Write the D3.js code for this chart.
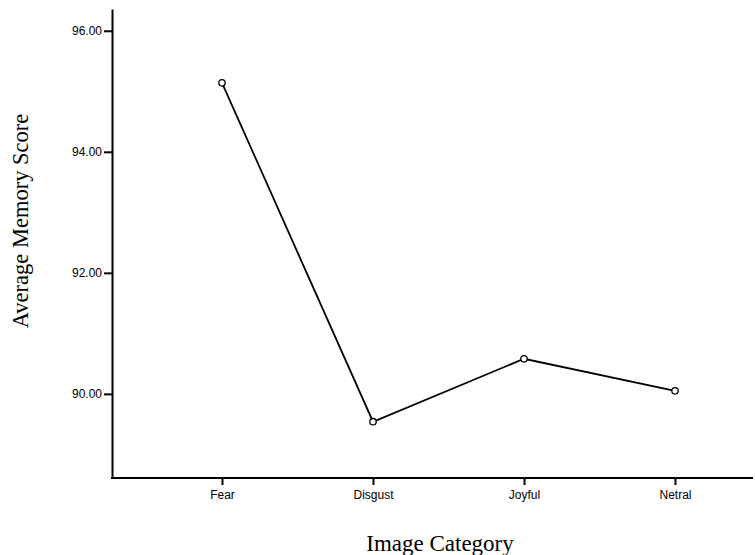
<!DOCTYPE html>
<html>
<head>
<meta charset="utf-8">
<script src="https://cdn.jsdelivr.net/npm/d3@7"></script>
<style>
  body { margin: 0; background: #fff; }
  svg { display: block; }
</style>
</head>
<body>
<div id="plot"></div>
<script>
// data
const categories = ["Fear", "Disgust", "Joyful", "Netral"];
const scores = [95.14, 89.54, 90.58, 90.05];
const yTicks = [90, 92, 94, 96];

const data = categories.map((c, i) => ({ category: c, score: scores[i] }));

const svg_width = 755;
const svg_height = 555;

const svg = d3.select("div#plot")
  .append("svg")
  .attr("width", svg_width)
  .attr("height", svg_height);

// plot frame
const axis_left = 112;
const axis_right = 753;
const axis_top = 9;
const axis_bottom = 478;

const x = d3.scalePoint()
  .domain(categories)
  .range([222, 675]);

const y = d3.scaleLinear()
  .domain([88.61, 96.36])
  .range([axis_bottom, axis_top]);

const tickFont = "'Liberation Sans', Arial, sans-serif";
const titleFont = "'Liberation Serif', 'Times New Roman', serif";

// Y axis
const yAxis = svg.append("g")
  .attr("transform", "translate(" + axis_left + ",0)")
  .call(d3.axisLeft(y)
    .tickValues(yTicks)
    .tickFormat(d3.format(".2f"))
    .tickSize(8)
    .tickSizeOuter(0)
    .tickPadding(2));

yAxis.select(".domain").attr("stroke", "#000").attr("stroke-width", 2);
yAxis.selectAll(".tick line").attr("stroke", "#000").attr("stroke-width", 2);
yAxis.selectAll(".tick text")
  .attr("fill", "#000")
  .style("font-family", tickFont)
  .style("font-size", "12px");

// X axis
const xAxis = svg.append("g")
  .attr("transform", "translate(0," + axis_bottom + ")")
  .call(d3.axisBottom(x)
    .tickSize(7)
    .tickSizeOuter(0)
    .tickPadding(5));

xAxis.select(".domain").remove();
xAxis.selectAll(".tick line").attr("stroke", "#000").attr("stroke-width", 2);
xAxis.selectAll(".tick text")
  .attr("fill", "#000")
  .style("font-family", tickFont)
  .style("font-size", "12px");

// full-width baseline
svg.append("line")
  .attr("stroke", "#000")
  .attr("stroke-width", 2)
  .attr("x1", axis_left - 1)
  .attr("y1", axis_bottom)
  .attr("x2", axis_right)
  .attr("y2", axis_bottom);

// line
const line = d3.line()
  .x(d => x(d.category))
  .y(d => y(d.score));

svg.append("path")
  .datum(data)
  .attr("fill", "none")
  .attr("stroke", "#000")
  .attr("stroke-width", 1.8)
  .attr("d", line);

// hollow markers
svg.selectAll("circle.marker")
  .data(data)
  .enter()
  .append("circle")
  .attr("class", "marker")
  .attr("cx", d => x(d.category))
  .attr("cy", d => y(d.score))
  .attr("r", 3.2)
  .attr("fill", "#fff")
  .attr("stroke", "#000")
  .attr("stroke-width", 1.3);

// axis titles
svg.append("text")
  .attr("x", 440)
  .attr("y", 551)
  .attr("text-anchor", "middle")
  .style("font-family", titleFont)
  .style("font-size", "23px")
  .style("fill", "#000")
  .text("Image Category");

svg.append("text")
  .attr("transform", "rotate(-90)")
  .attr("x", -221)
  .attr("y", 28)
  .attr("text-anchor", "middle")
  .style("font-family", titleFont)
  .style("font-size", "22.5px")
  .style("fill", "#000")
  .text("Average Memory Score");
</script>
</body>
</html>
